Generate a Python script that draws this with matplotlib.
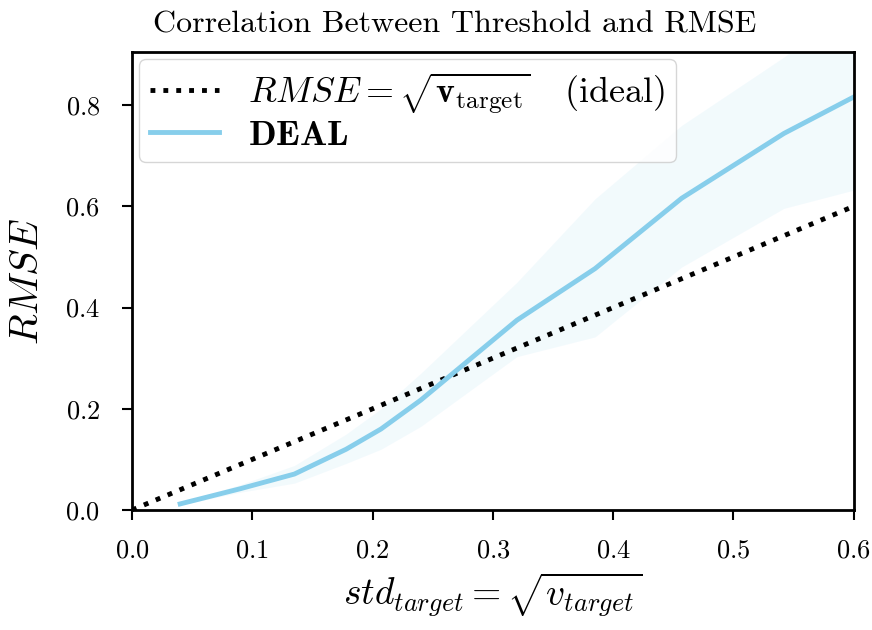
import numpy as np
import matplotlib
matplotlib.use("Agg")
import matplotlib.pyplot as plt

# std of target vs. RMSE of DEAL, with spread over runs
std_target = [0.04, 0.09, 0.135, 0.178, 0.207, 0.24, 0.32, 0.385, 0.457, 0.542, 0.6]
rmse_mean = [0.012, 0.042, 0.071, 0.12, 0.16, 0.217, 0.375, 0.477, 0.616, 0.744, 0.816]
rmse_upper = [0.015, 0.05, 0.088, 0.15, 0.2, 0.27, 0.45, 0.615, 0.76, 0.895, 1.0]
rmse_lower = [0.01, 0.035, 0.053, 0.092, 0.12, 0.165, 0.303, 0.342, 0.48, 0.596, 0.632]
ideal_x = [0.0, 0.6]

plt.rcParams['font.family'] = 'serif'
plt.rcParams['font.serif'] = ['cmr10']
plt.rcParams['mathtext.fontset'] = 'cm'
plt.rcParams['axes.formatter.use_mathtext'] = True

fig = plt.figure(figsize=(8.72, 6.30), dpi=100)
ax = fig.add_axes([0.1514, 0.1905, 0.8276, 0.727])

ax.plot(ideal_x, ideal_x, color='black', linestyle=':', linewidth=3.5,
        label=r'$RMSE = \sqrt{\mathbf{v}_{\mathrm{target}}}$   (ideal)')
ax.plot(std_target, rmse_mean, color='#87CEEB', linewidth=3.5,
        label=r'$\mathbf{DEAL}$')
ax.fill_between(std_target, rmse_lower, rmse_upper, color='#87CEEB', alpha=0.1,
                linewidth=0)

ax.set_xlim(0, 0.6)
ax.set_ylim(0, 0.905)
ax.set_xticks([0.0, 0.1, 0.2, 0.3, 0.4, 0.5, 0.6])
ax.set_yticks([0.0, 0.2, 0.4, 0.6, 0.8])
ax.tick_params(labelsize=19, length=7, width=1.5, direction='out')
ax.tick_params(axis='x', pad=14)
ax.tick_params(axis='y', pad=16)
for s in ax.spines.values():
    s.set_linewidth(2)

ax.set_title('Correlation Between Threshold and RMSE', fontsize=23, pad=14, x=0.447)
ax.set_xlabel(r'$std_{target} = \sqrt{v_{target}}$', fontsize=27, labelpad=6)
ax.set_ylabel(r'$RMSE$', fontsize=29, labelpad=14)
ax.legend(loc='upper left', fontsize=26, handlelength=1.9, handletextpad=0.8,
          borderaxespad=0.2, labelspacing=0.1, borderpad=0.3)

fig.savefig('out.png', dpi=100)
